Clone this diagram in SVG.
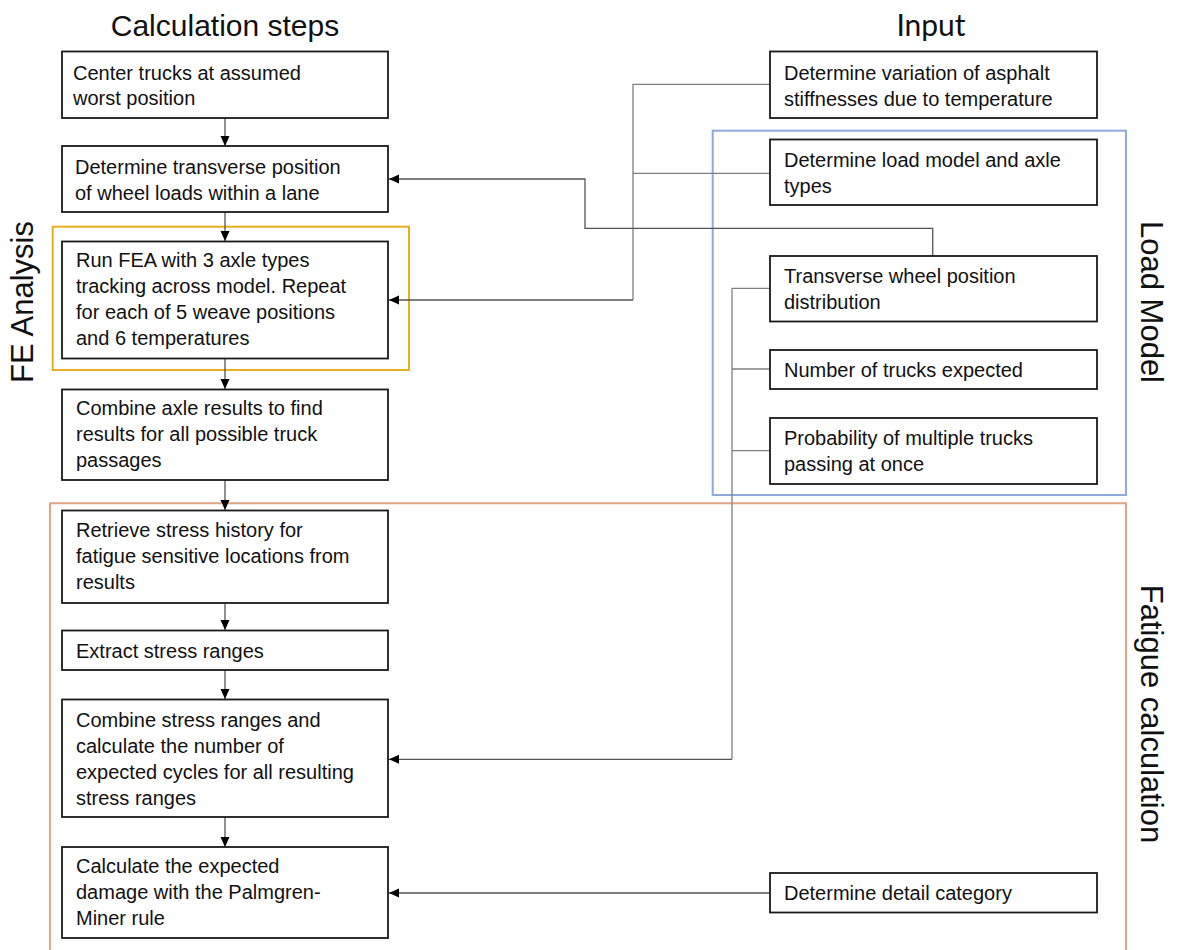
<svg xmlns="http://www.w3.org/2000/svg" width="1178" height="950" viewBox="0 0 1178 950">
<style>
.box{fill:#fff;stroke:#1a1a1a;stroke-width:1.8}
.t{font-family:"Liberation Sans",Arial,sans-serif;font-size:20px;fill:#111}
.h{font-family:"Liberation Sans",Arial,sans-serif;font-size:30px;fill:#111}
.side{font-family:"Liberation Sans",Arial,sans-serif;font-size:31px;fill:#111}
.c{fill:none;stroke:#555;stroke-width:1.3}
.g{fill:none;stroke:#808080;stroke-width:1.3}
</style>
<defs>
<marker id="arr" markerUnits="userSpaceOnUse" markerWidth="10" markerHeight="10" refX="10" refY="5" orient="auto">
<path d="M0,0.5 L10,5 L0,9.5 z" fill="#000"/>
</marker>
</defs>
<rect width="1178" height="950" fill="#fff"/>
<g id="titles">
<text class="h" x="225" y="36" text-anchor="middle">Calculation steps</text>
<text x="931" y="36" text-anchor="middle" font-family="Lato,'Open Sans',sans-serif" font-size="30" fill="#111">Input</text>
<text class="side" transform="translate(33,302) rotate(-90)" text-anchor="middle">FE Analysis</text>
<text class="side" transform="translate(1141,302) rotate(90)" text-anchor="middle">Load Model</text>
<text class="side" transform="translate(1141,714) rotate(90)" text-anchor="middle">Fatigue calculation</text>
</g>
<g id="frames">
<rect id="fe-frame" x="52.7" y="226.7" width="356.3" height="143.3" fill="none" stroke="#E8B020" stroke-width="2"/>
<rect id="load-frame" x="712.7" y="130.7" width="413.3" height="364.3" fill="none" stroke="#8FAADC" stroke-width="2"/>
<path id="fatigue-frame" d="M50,960 L50,503.3 L1126,503.3 L1126,960" fill="none" stroke="#E0A585" stroke-width="2"/>
</g>
<g id="connectors">
<line class="c" x1="225" y1="118" x2="225" y2="146" marker-end="url(#arr)"/>
<line class="c" x1="225" y1="212" x2="225" y2="241" marker-end="url(#arr)"/>
<line class="c" x1="225" y1="358" x2="225" y2="389" marker-end="url(#arr)"/>
<line class="c" x1="225" y1="480" x2="225" y2="510" marker-end="url(#arr)"/>
<line class="c" x1="225" y1="603" x2="225" y2="630" marker-end="url(#arr)"/>
<line class="c" x1="225" y1="670" x2="225" y2="699" marker-end="url(#arr)"/>
<line class="c" x1="225" y1="817" x2="225" y2="847" marker-end="url(#arr)"/>
<path class="g" d="M770,84.3 L633,84.3 L633,300"/>
<path class="c" d="M633,300 L389,300" marker-end="url(#arr)"/>
<path class="g" d="M770,173.3 L633,173.3"/>
<path class="c" d="M932.7,256 L932.7,228.3 L585,228.3 L585,179 L389,179" marker-end="url(#arr)"/>
<path class="g" d="M770,288.3 L732,288.3 L732,759.3"/>
<path class="c" d="M732,759.3 L389,759.3" marker-end="url(#arr)"/>
<path class="g" d="M770,369 L732,369"/>
<path class="g" d="M770,450.7 L732,450.7"/>
<path class="c" d="M770,893 L389,893" marker-end="url(#arr)"/>
</g>
<g id="step1">
<rect class="box" x="62" y="51.5" width="326" height="66.5"/>
<text class="t" x="73" y="80">Center trucks at assumed</text>
<text class="t" x="73" y="105">worst position</text>
</g>
<g id="step2">
<rect class="box" x="62" y="146" width="326" height="66"/>
<text class="t" x="75" y="174">Determine transverse position</text>
<text class="t" x="75" y="200">of wheel loads within a lane</text>
</g>
<g id="step3">
<rect class="box" x="62" y="241.5" width="326" height="117"/>
<text class="t" x="76" y="267">Run FEA with 3 axle types</text>
<text class="t" x="76" y="293">tracking across model. Repeat</text>
<text class="t" x="76" y="319">for each of 5 weave positions</text>
<text class="t" x="76" y="345">and 6 temperatures</text>
</g>
<g id="step4">
<rect class="box" x="62" y="389.5" width="326" height="90.5"/>
<text class="t" x="76" y="415">Combine axle results to find</text>
<text class="t" x="76" y="441">results for all possible truck</text>
<text class="t" x="76" y="467">passages</text>
</g>
<g id="step5">
<rect class="box" x="62" y="510.5" width="326" height="92.5"/>
<text class="t" x="76" y="537">Retrieve stress history for</text>
<text class="t" x="76" y="563">fatigue sensitive locations from</text>
<text class="t" x="76" y="589">results</text>
</g>
<g id="step6">
<rect class="box" x="62" y="630.5" width="326" height="39.5"/>
<text class="t" x="76" y="658">Extract stress ranges</text>
</g>
<g id="step7">
<rect class="box" x="62" y="699.5" width="326" height="117.5"/>
<text class="t" x="76" y="727">Combine stress ranges and</text>
<text class="t" x="76" y="753">calculate the number of</text>
<text class="t" x="76" y="779">expected cycles for all resulting</text>
<text class="t" x="76" y="805">stress ranges</text>
</g>
<g id="step8">
<rect class="box" x="62" y="847" width="326" height="91"/>
<text class="t" x="76" y="873">Calculate the expected</text>
<text class="t" x="76" y="899">damage with the Palmgren-</text>
<text class="t" x="76" y="925">Miner rule</text>
</g>
<g id="in1">
<rect class="box" x="770" y="51.5" width="327" height="66.5"/>
<text class="t" x="784" y="80">Determine variation of asphalt</text>
<text class="t" x="784" y="106">stiffnesses due to temperature</text>
</g>
<g id="in2">
<rect class="box" x="770" y="139.5" width="327" height="65.5"/>
<text class="t" x="784" y="167">Determine load model and axle</text>
<text class="t" x="784" y="193">types</text>
</g>
<g id="in3">
<rect class="box" x="770" y="256" width="327" height="65.5"/>
<text class="t" x="784" y="283">Transverse wheel position</text>
<text class="t" x="784" y="309">distribution</text>
</g>
<g id="in4">
<rect class="box" x="770" y="350" width="327" height="39"/>
<text class="t" x="784" y="377">Number of trucks expected</text>
</g>
<g id="in5">
<rect class="box" x="770" y="418" width="327" height="66"/>
<text class="t" x="784" y="445">Probability of multiple trucks</text>
<text class="t" x="784" y="471">passing at once</text>
</g>
<g id="in6">
<rect class="box" x="770" y="873" width="327" height="39.5"/>
<text class="t" x="784" y="900">Determine detail category</text>
</g>
</svg>
